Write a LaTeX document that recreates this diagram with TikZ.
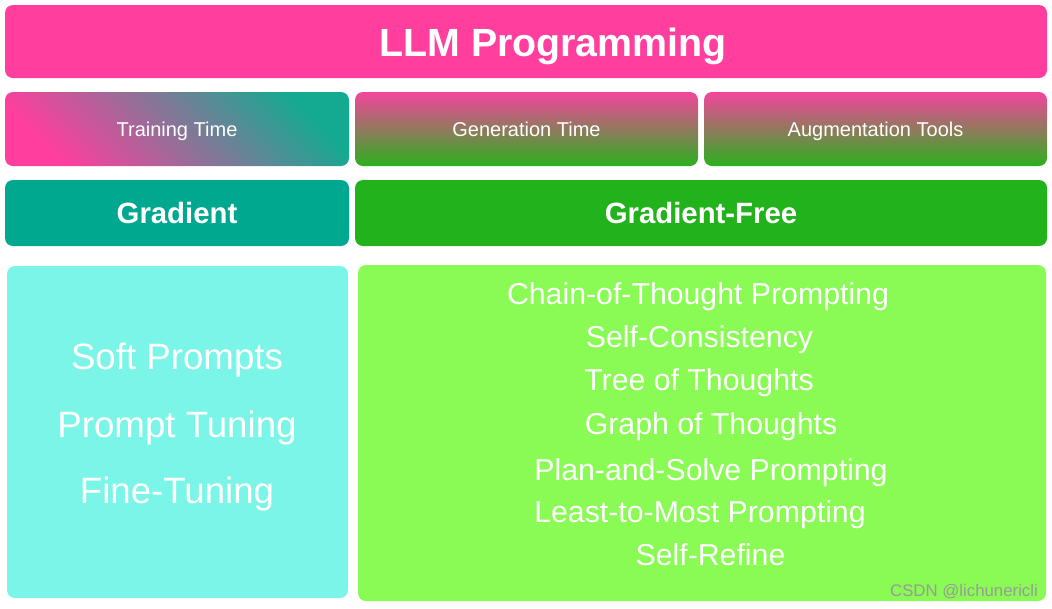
\documentclass[tikz,border=0pt]{standalone}
\usepackage{fontspec}
\setmainfont{Liberation Sans}

\definecolor{titlepink}{HTML}{FF3E9D}
\definecolor{headpink}{HTML}{F4449C}
\definecolor{headgreen}{HTML}{2CB01E}
\definecolor{headteal}{HTML}{14AA92}
\definecolor{gradteal}{HTML}{00A88F}
\definecolor{freegreen}{HTML}{22B21C}
\definecolor{softcyan}{HTML}{7BF5E7}
\definecolor{lightgreen}{HTML}{8AFA54}
\definecolor{markgray}{HTML}{9A9A9A}

\tikzset{every picture/.style={line width=0.75pt}}
\tikzset{
  box/.style={rounded corners=6pt, inner sep=0pt, text=white, align=center},
  headbox/.style={box, minimum height=55.5pt, text height=10.7pt, text depth=0pt, font=\fontsize{15}{18}\selectfont},
  leftline/.style={inner sep=0.75pt, text=white, text height=19.7pt, text depth=0pt, font=\fontsize{27.5}{32}\selectfont},
  rightline/.style={inner sep=0.75pt, text=white, text height=16.3pt, text depth=0pt, font=\fontsize{22.7}{27}\selectfont},
}

\begin{document}
\begin{tikzpicture}[x=0.75pt,y=0.75pt,yscale=-1,xscale=1]
%set diagram to 1052 by 608
\useasboundingbox (0,0) rectangle (1052,608);

%Shape: Rounded Rectangle [id:title]
\node (title) at (526,41.5) [box, fill=titlepink, minimum width=781.5pt, minimum height=54.75pt] {};
% Text Node
\node (titletext) at (553,42) [inner sep=0pt, text=white, text height=21.1pt, text depth=0pt, font=\fontsize{29.5}{35}\selectfont\bfseries] {LLM Programming};

%Shape: Rounded Rectangle [id:training]
\node (training) at (177,129) [headbox, top color=headteal, bottom color=titlepink, shading angle=-45, minimum width=258pt] {Training Time};
%Shape: Rounded Rectangle [id:generation]
\node (generation) at (526.5,129) [headbox, top color=headpink, bottom color=headgreen, minimum width=257.25pt] {Generation Time};
%Shape: Rounded Rectangle [id:augmentation]
\node (augmentation) at (875.5,129) [headbox, top color=headpink, bottom color=headgreen, minimum width=257.25pt] {Augmentation Tools};

%Shape: Rounded Rectangle [id:gradient]
\node (gradient) at (177,213) [box, fill=gradteal, minimum width=258pt, minimum height=49.5pt, text height=15.8pt, text depth=0pt] {\fontsize{22}{26}\selectfont\bfseries Gradient};
%Shape: Rounded Rectangle [id:gradfree]
\node (gradfree) at (701,213) [box, fill=freegreen, minimum width=519pt, minimum height=49.5pt, text height=15.8pt, text depth=0pt] {\fontsize{22}{26}\selectfont\bfseries Gradient-Free};

%Shape: Rounded Rectangle [id:softbox]
\node (softbox) at (177.5,432) [box, fill=softcyan, minimum width=255.75pt, minimum height=249pt] {};
%Shape: Rounded Rectangle [id:freebox]
\node (freebox) at (702,433) [box, fill=lightgreen, minimum width=516pt, minimum height=252pt] {};

% Text Node
\node (soft) at (177,356) [leftline] {Soft Prompts};
% Text Node
\node (tuning) at (177,424) [leftline] {Prompt Tuning};
% Text Node
\node (fine) at (177,490) [leftline] {Fine-Tuning};

% Text Node
\node (cot) at (698,294) [rightline] {Chain-of-Thought Prompting};
% Text Node
\node (selfcon) at (699.5,337) [rightline] {Self-Consistency};
% Text Node
\node (tot) at (699,380) [rightline] {Tree of Thoughts};
% Text Node
\node (got) at (711,424) [rightline] {Graph of Thoughts};
% Text Node
\node (plan) at (711,470) [rightline] {Plan-and-Solve Prompting};
% Text Node
\node (least) at (700,512) [rightline] {Least-to-Most Prompting};
% Text Node
\node (refine) at (710.5,555) [rightline] {Self-Refine};

% Text Node
\node (mark) at (964,592) [inner sep=0.75pt, text=markgray, font=\fontsize{12.6}{15}\selectfont] {CSDN @lichunericli};
\end{tikzpicture}
\end{document}
